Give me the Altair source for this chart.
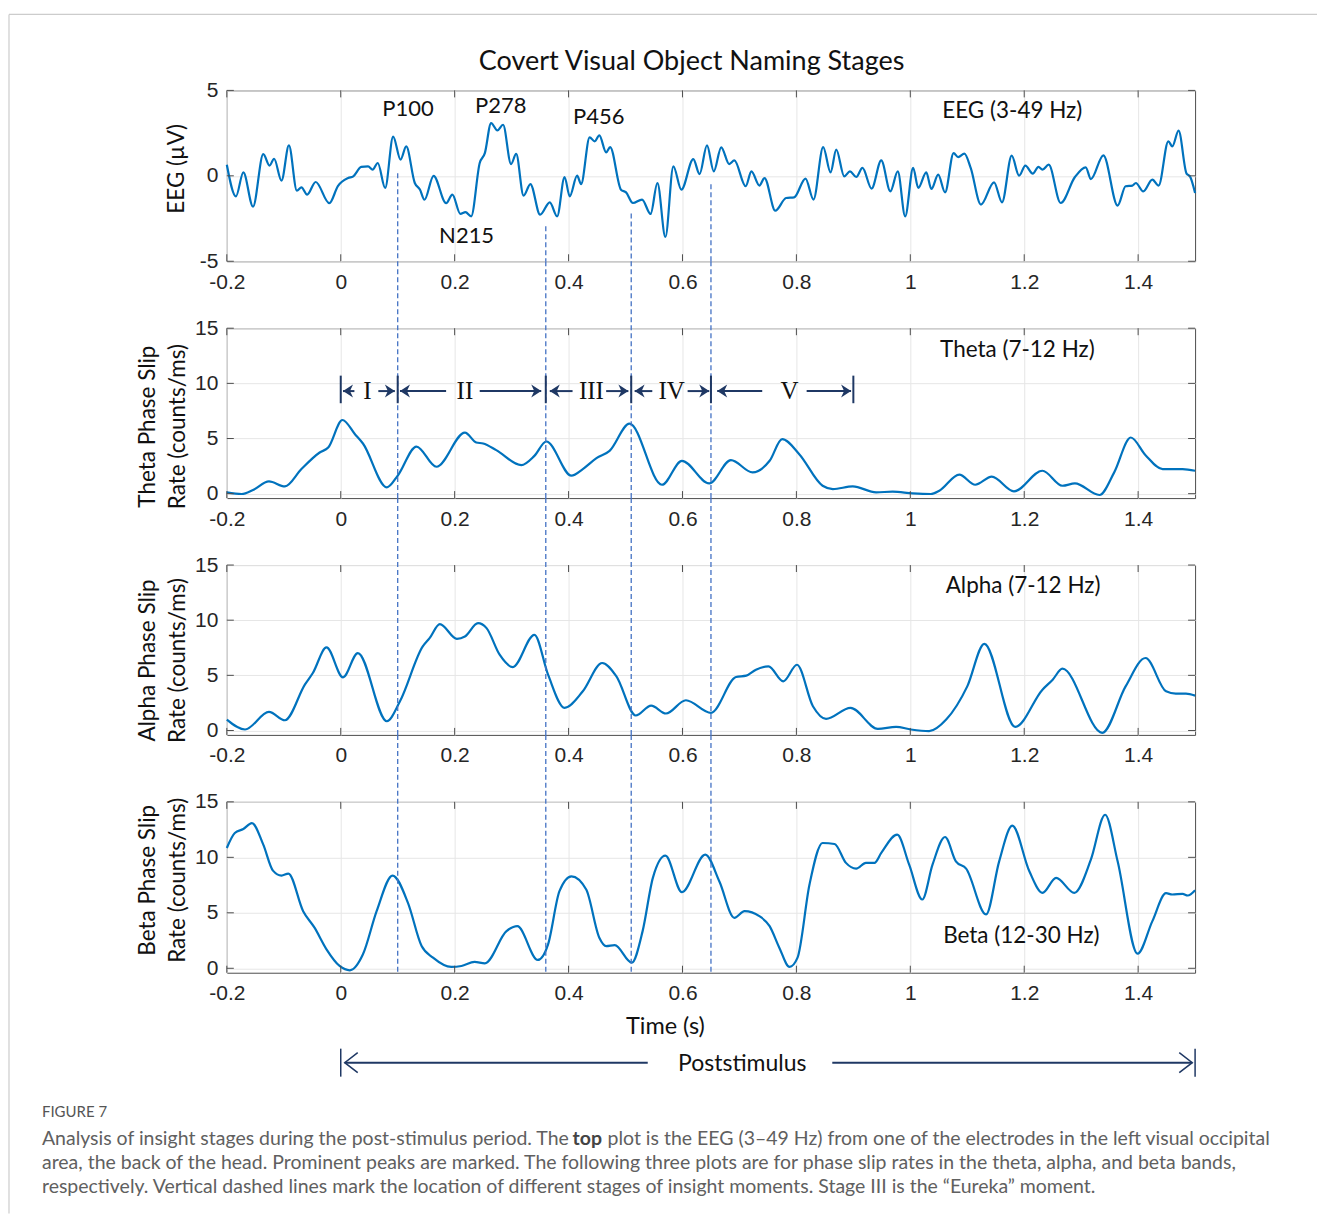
import altair as alt
import pandas as pd

# ---------------- data ----------------
eeg_t = [-0.2, -0.184, -0.171, -0.154, -0.136, -0.125, -0.117, -0.104, -0.091, -0.077, -0.069, -0.059,
         -0.044, -0.02, -0.005, 0.013, 0.022, 0.036, 0.048, 0.056, 0.065, 0.078, 0.092, 0.105, 0.115,
         0.13, 0.139, 0.147, 0.163, 0.185, 0.196, 0.21, 0.219, 0.229, 0.244, 0.253, 0.264, 0.275, 0.285,
         0.299, 0.308, 0.321, 0.333, 0.35, 0.367, 0.38, 0.393, 0.402, 0.415, 0.422, 0.437, 0.446, 0.454,
         0.466, 0.473, 0.492, 0.501, 0.513, 0.529, 0.544, 0.556, 0.57, 0.584, 0.598, 0.619, 0.63, 0.643,
         0.655, 0.668, 0.682, 0.691, 0.711, 0.721, 0.735, 0.744, 0.763, 0.782, 0.796, 0.816, 0.83, 0.847,
         0.86, 0.87, 0.884, 0.894, 0.905, 0.916, 0.932, 0.949, 0.965, 0.978, 0.991, 1.005, 1.014, 1.028,
         1.037, 1.049, 1.061, 1.076, 1.084, 1.095, 1.106, 1.124, 1.147, 1.161, 1.178, 1.191, 1.202, 1.215,
         1.225, 1.232, 1.243, 1.264, 1.289, 1.308, 1.317, 1.339, 1.364, 1.378, 1.39, 1.396, 1.409, 1.425,
         1.436, 1.453, 1.46, 1.471, 1.485, 1.491, 1.5]
eeg_v = [0.65, -1.2, 0.2, -1.8, 1.27, 0.6, 1.0, -0.28, 1.78, -0.87, -0.67, -1.1,
         -0.36, -1.6, -0.6, -0.13, -0.03, 0.52, 0.55, 0.36, 0.75, -0.71, 2.3, 0.95, 1.72,
         -0.42, -0.8, -1.4, 0.0, -1.6, -1.1, -2.23, -2.13, -2.37, 0.75, 1.33, 3.09, 2.66, 2.99,
         0.69, 1.28, -1.16, -0.48, -2.27, -1.55, -2.37, -0.07, -1.2, 0.01, -0.48, 2.25, 2.02, 2.37,
         1.37, 1.68, -0.81, -0.97, -1.59, -1.39, -2.23, -0.42, -3.58, 0.55, -0.81, 0.98, 0.1, 1.78,
         0.26, 1.67, 0.69, 0.9, -0.61, 0.26, -0.57, -0.13, -2.04, -1.3, -1.26, -0.16, -1.39, 1.68,
         0.2, 1.53, -0.03, 0.26, -0.07, 0.46, -0.75, 0.9, -0.91, 0.26, -2.37, 0.46, -0.71, 0.2,
         -0.77, 0.07, -0.97, 1.33, 1.1, 1.3, 0.46, -1.68, -0.38, -1.55, 1.18, 0.01, 0.6, 0.13,
         0.52, 0.36, 0.65, -1.59, -0.07, 0.5, -0.19, 1.2, -1.74, -0.61, -0.57, -0.42, -0.91, -0.22,
         -0.57, 2.02, 1.72, 2.64, 0.13, -0.03, -1.0]

theta_t = [-0.2, -0.174, -0.154, -0.126, -0.098, -0.069, -0.037, -0.022, 0.003, 0.025, 0.039, 0.081,
           0.1, 0.133, 0.168, 0.218, 0.238, 0.25, 0.273, 0.317, 0.34, 0.361, 0.405, 0.425, 0.449,
           0.472, 0.507, 0.564, 0.599, 0.647, 0.685, 0.723, 0.753, 0.775, 0.805, 0.846, 0.864, 0.899,
           0.94, 0.969, 1.004, 1.036, 1.051, 1.086, 1.114, 1.143, 1.182, 1.232, 1.267, 1.289, 1.332,
           1.358, 1.387, 1.413, 1.443, 1.46, 1.478, 1.5]
theta_v = [0.12, -0.03, 0.33, 1.11, 0.66, 2.23, 3.73, 4.18, 6.68, 5.39, 4.55, 0.57,
           1.63, 4.27, 2.44, 5.54, 4.64, 4.55, 3.95, 2.59, 3.43, 4.73, 1.63, 2.23, 3.22,
           3.88, 6.35, 0.81, 2.98, 0.93, 3.04, 1.93, 2.98, 4.94, 3.58, 0.72, 0.42, 0.66,
           0.12, 0.18, 0.03, -0.03, 0.27, 1.72, 0.81, 1.54, 0.21, 2.08, 0.72, 0.93, -0.12,
           1.93, 5.09, 3.49, 2.23, 2.23, 2.23, 2.08]

alpha_t = [-0.2, -0.168, -0.126, -0.098, -0.063, -0.049, -0.025, 0.004, 0.03, 0.081, 0.104, 0.144,
           0.156, 0.174, 0.204, 0.218, 0.241, 0.256, 0.279, 0.302, 0.34, 0.364, 0.393, 0.425, 0.459,
           0.484, 0.518, 0.545, 0.571, 0.606, 0.65, 0.694, 0.712, 0.729, 0.751, 0.777, 0.801, 0.829,
           0.852, 0.895, 0.943, 0.975, 1.001, 1.033, 1.063, 1.1, 1.13, 1.184, 1.232, 1.25, 1.267,
           1.337, 1.378, 1.413, 1.449, 1.466, 1.484, 1.5]
alpha_v = [0.99, 0.09, 1.69, 0.93, 4.16, 5.21, 7.53, 4.82, 7.02, 0.84, 2.65, 7.62,
           8.37, 9.64, 8.31, 8.52, 9.73, 9.28, 6.87, 5.75, 8.67, 5.06, 2.05, 3.55, 6.12,
           4.9, 1.36, 2.26, 1.54, 2.74, 1.6, 4.85, 4.97, 5.51, 5.81, 4.45, 5.96, 2.2,
           1.06, 2.05, 0.15, 0.33, 0.09, -0.06, 0.99, 4.0, 7.86, 0.33, 3.7, 4.61, 5.6,
           -0.21, 4.0, 6.57, 3.55, 3.34, 3.34, 3.16]

beta_t = [-0.2, -0.186, -0.171, -0.156, -0.136, -0.119, -0.104, -0.092, -0.066, -0.046, -0.025, -0.002,
          0.016, 0.039, 0.063, 0.091, 0.118, 0.142, 0.162, 0.194, 0.212, 0.235, 0.253, 0.291, 0.31,
          0.346, 0.364, 0.384, 0.405, 0.431, 0.454, 0.466, 0.481, 0.511, 0.53, 0.548, 0.57, 0.599,
          0.64, 0.665, 0.691, 0.709, 0.735, 0.753, 0.77, 0.788, 0.802, 0.823, 0.846, 0.867, 0.887,
          0.905, 0.922, 0.937, 0.949, 0.977, 0.998, 1.021, 1.039, 1.061, 1.08, 1.098, 1.133, 1.156,
          1.179, 1.209, 1.232, 1.256, 1.288, 1.317, 1.342, 1.364, 1.399, 1.425, 1.449, 1.46, 1.478,
          1.487, 1.5]
beta_v = [10.84, 12.19, 12.55, 13.09, 11.14, 8.8, 8.36, 8.54, 5.15, 3.66, 1.71, 0.21,
          -0.18, 1.26, 5.15, 8.36, 5.9, 2.0, 0.96, 0.12, 0.21, 0.57, 0.45, 3.35, 3.8,
          0.75, 2.16, 6.95, 8.29, 7.1, 2.76, 2.0, 2.09, 0.51, 3.35, 8.15, 10.15, 6.86,
          10.24, 7.8, 4.55, 5.15, 4.7, 3.8, 1.86, 0.12, 0.96, 7.55, 11.29, 11.2, 9.5,
          8.98, 9.5, 9.5, 10.4, 12.04, 9.34, 6.2, 9.34, 11.83, 9.64, 8.98, 4.85, 9.64,
          12.85, 8.74, 6.8, 8.15, 6.8, 9.79, 13.84, 9.64, 1.32, 4.25, 6.77, 6.65, 6.71,
          6.56, 7.04]

x_ticks = [-0.2, 0, 0.2, 0.4, 0.6, 0.8, 1.0, 1.2, 1.4]
eeg_ticks = [-5, 0, 5]
rate_ticks = [0, 5, 10, 15]

# stage boundaries (s) and the EEG level where each dashed marker begins
stage_lines = [0.1, 0.36, 0.51, 0.65]
stage_line_top = [0.15, -2.95, -2.2, -0.5]

# EEG peak annotations
peak_names = ["P100", "P278", "P456", "N215"]
peak_t = [0.118, 0.281, 0.453, 0.221]
peak_v = [3.9, 4.1, 3.45, -3.5]

# stage ruler in the theta panel
stage_edges = [0, 0.1, 0.36, 0.51, 0.65, 0.9]
stage_names = ["I", "II", "III", "IV", "V"]
stage_name_t = [0.047, 0.218, 0.44, 0.581, 0.788]
left_arrow_tip = [0.004, 0.104, 0.367, 0.516, 0.661]
left_arrow_end = [0.024, 0.185, 0.407, 0.547, 0.74]
right_arrow_start = [0.066, 0.244, 0.466, 0.609, 0.818]
right_arrow_tip = [0.095, 0.352, 0.505, 0.647, 0.896]
ruler_level = 9.3

# ---------------- styling ----------------
W = 969
H_EEG, H_RATE, H_BETA = 171, 170, 171
GAP = 67
LINE = "#0072BD"
DASH = "#4472C4"
NAVY = "#1F3864"
FRAME = "#4D4D4D"
GRID = "#E6E6E6"
SANS = "Lato"
NUM = "Liberation Sans"

x_scale = alt.Scale(domain=[-0.2, 1.5], nice=False, zero=False)
num_expr = "datum.value < 0 ? '-' + format(-datum.value, '~g') : format(datum.value, '~g')"

x_axis = alt.Axis(values=x_ticks, title=None, labelExpr=num_expr, grid=True, gridColor=GRID,
                  ticks=False, domain=False, labelFont=NUM, labelFontSize=21,
                  labelColor="#262626", labelPadding=10, labelFlush=False)


def y_axis(title, ticks, tx, ty):
    return alt.Axis(values=ticks, title=title, labelExpr=num_expr, grid=True, gridColor=GRID,
                    ticks=False, domain=False, labelFont=NUM, labelFontSize=21,
                    labelColor="#262626", labelPadding=9, titleFont=SANS, titleFontSize=22.5,
                    titleFontWeight="normal", titleColor="#111111", titleAngle=270,
                    titleAlign="center", titleBaseline="middle", titleX=tx, titleY=ty,
                    titleLineHeight=30)


def panel(t, v, domain, height, ticks, title, tx, ty):
    ys = alt.Scale(domain=domain, nice=False, zero=False)
    X = alt.X("t:Q", scale=x_scale, axis=x_axis)
    Y = alt.Y("v:Q", scale=ys, axis=y_axis(title, ticks, tx, ty))
    curve = alt.Chart(pd.DataFrame({"t": t, "v": v})).mark_line(
        color=LINE, strokeWidth=2.2, interpolate="monotone").encode(x=X, y=Y)
    xt = pd.DataFrame({"t": x_ticks})
    yt = pd.DataFrame({"v": ticks})
    tick_style = dict(color=FRAME, strokeWidth=1)
    tk = [
        alt.Chart(xt).mark_rule(**tick_style).encode(x=X, y=alt.value(height), y2=alt.value(height - 7)),
        alt.Chart(xt).mark_rule(**tick_style).encode(x=X, y=alt.value(0), y2=alt.value(7)),
        alt.Chart(yt).mark_rule(**tick_style).encode(y=Y, x=alt.value(0), x2=alt.value(7)),
        alt.Chart(yt).mark_rule(**tick_style).encode(y=Y, x=alt.value(W - 7), x2=alt.value(W)),
    ]
    return X, Y, curve, tk


def label(text, t, v, Y, X, size=22.5, font=SANS, color="#111111"):
    return alt.Chart(pd.DataFrame({"t": [t], "v": [v], "s": [text]})).mark_text(
        font=font, fontSize=size, color=color, baseline="middle", align="center").encode(
        x=X, y=Y, text="s:N")


def dashed_through(X, height):
    return alt.Chart(pd.DataFrame({"t": stage_lines})).mark_rule(
        color=DASH, strokeWidth=1.3, strokeDash=[5, 3]).encode(
        x=X, y=alt.value(-GAP), y2=alt.value(height))


# ---- panel 1: EEG ----
X1, Y1, c1, tk1 = panel(eeg_t, eeg_v, [-5, 5], H_EEG, eeg_ticks, "EEG (µV)", -50, 78)
dash1 = alt.Chart(pd.DataFrame({"t": stage_lines, "v": stage_line_top})).mark_rule(
    color=DASH, strokeWidth=1.3, strokeDash=[5, 3]).encode(x=X1, y=Y1, y2=alt.value(H_EEG))
peaks = alt.Chart(pd.DataFrame({"t": peak_t, "v": peak_v, "s": peak_names})).mark_text(
    font=SANS, fontSize=22, color="#111111", baseline="middle").encode(x=X1, y=Y1, text="s:N")
eeg_band = label("EEG (3-49 Hz)", 1.179, 3.8, Y1, X1)
main_title = alt.Chart(pd.DataFrame({"t": [0.616], "s": ["Covert Visual Object Naming Stages"]})).mark_text(
    font=SANS, fontSize=27, color="#111111", baseline="middle").encode(
    x=X1, y=alt.value(-28), text="s:N")
card = pd.DataFrame({"a": [0]})
card_top = alt.Chart(card).mark_rule(color="#CCCCCC", strokeWidth=1.2).encode(
    x=alt.value(-218), x2=alt.value(1091), y=alt.value(-76))
card_left = alt.Chart(card).mark_rule(color="#CCCCCC", strokeWidth=1.2).encode(
    x=alt.value(-218), y=alt.value(-76), y2=alt.value(1124))
p1 = alt.layer(card_top, card_left, c1, *tk1, dash1, peaks, eeg_band, main_title).properties(
    width=W, height=H_EEG)

# ---- panel 2: theta ----
X2, Y2, c2, tk2 = panel(theta_t, theta_v, [-0.4, 15], H_RATE, rate_ticks,
                        ["Theta Phase Slip", "Rate (counts/ms)"], -79, 98)
bars = alt.Chart(pd.DataFrame({"t": stage_edges, "v": [8.2] * 6, "v2": [10.7] * 6})).mark_rule(
    color=NAVY, strokeWidth=2).encode(x=X2, y=Y2, y2="v2:Q")
shafts = alt.Chart(pd.DataFrame({
    "t": left_arrow_tip + right_arrow_start,
    "t2": left_arrow_end + right_arrow_tip,
    "v": [ruler_level] * 10})).mark_rule(color=NAVY, strokeWidth=2).encode(x=X2, x2="t2:Q", y=Y2)
head_r = alt.Chart(pd.DataFrame({"t": right_arrow_tip, "v": [ruler_level] * 5})).mark_point(
    shape="M0,0L-1,-0.65L-0.7,0L-1,0.65Z", size=400, filled=True, color=NAVY, opacity=1).encode(x=X2, y=Y2)
head_l = alt.Chart(pd.DataFrame({"t": left_arrow_tip, "v": [ruler_level] * 5})).mark_point(
    shape="M0,0L1,-0.65L0.7,0L1,0.65Z", size=400, filled=True, color=NAVY, opacity=1).encode(x=X2, y=Y2)
roman = alt.Chart(pd.DataFrame({"t": stage_name_t, "v": [ruler_level] * 5, "s": stage_names})).mark_text(
    font="Liberation Serif", fontSize=25, color="#111111", baseline="middle").encode(x=X2, y=Y2, text="s:N")
theta_band = label("Theta (7-12 Hz)", 1.188, 13.0, Y2, X2)
p2 = alt.layer(c2, *tk2, dashed_through(X2, H_RATE), bars, shafts, head_r, head_l, roman,
               theta_band).properties(width=W, height=H_RATE)

# ---- panel 3: alpha ----
X3, Y3, c3, tk3 = panel(alpha_t, alpha_v, [-0.4, 15], H_RATE, rate_ticks,
                        ["Alpha Phase Slip", "Rate (counts/ms)"], -79, 95)
alpha_band = label("Alpha (7-12 Hz)", 1.198, 13.1, Y3, X3)
p3 = alt.layer(c3, *tk3, dashed_through(X3, H_RATE), alpha_band).properties(width=W, height=H_RATE)

# ---- panel 4: beta, time axis, poststimulus ruler and caption ----
X4, Y4, c4, tk4 = panel(beta_t, beta_v, [-0.4, 15], H_BETA, rate_ticks,
                        ["Beta Phase Slip", "Rate (counts/ms)"], -79, 78)
beta_band = label("Beta (12-30 Hz)", 1.195, 2.9, Y4, X4)
time_title = alt.Chart(pd.DataFrame({"t": [0.57], "s": ["Time (s)"]})).mark_text(
    font=SANS, fontSize=23.5, color="#111111", baseline="middle").encode(x=X4, y=alt.value(225), text="s:N")
post_bars = alt.Chart(pd.DataFrame({"t": [0, 1.5]})).mark_rule(color=NAVY, strokeWidth=1.5).encode(
    x=X4, y=alt.value(247), y2=alt.value(275))
post_shafts = alt.Chart(pd.DataFrame({"t": [0.007, 0.863], "t2": [0.539, 1.495]})).mark_rule(
    color=NAVY, strokeWidth=2).encode(x=X4, x2="t2:Q", y=alt.value(261))
post_head_l = alt.Chart(pd.DataFrame({"t": [0.007]})).mark_point(
    shape="M1,-0.77L0,0L1,0.77", size=676, filled=False, color=NAVY, strokeWidth=1.5, opacity=1).encode(
    x=X4, y=alt.value(261))
post_head_r = alt.Chart(pd.DataFrame({"t": [1.495]})).mark_point(
    shape="M-1,-0.77L0,0L-1,0.77", size=676, filled=False, color=NAVY, strokeWidth=1.5, opacity=1).encode(
    x=X4, y=alt.value(261))
post_text = alt.Chart(pd.DataFrame({"t": [0.705], "s": ["Poststimulus"]})).mark_text(
    font=SANS, fontSize=23, color="#111111", baseline="middle").encode(x=X4, y=alt.value(262), text="s:N")

CAP = "#606060"
CAP_SIZE = 19.5
cap_rows = [
    ("FIGURE 7", -185, 310, 15, "normal", "#555555"),
    ("Analysis of insight stages during the post-stimulus period. The", -185, 337, CAP_SIZE, "normal", CAP),
    ("top", 346, 337, CAP_SIZE, "bold", "#444444"),
    ("plot is the EEG (3\u201349 Hz) from one of the electrodes in the left visual occipital", 381, 337,
     CAP_SIZE, "normal", CAP),
    ("area, the back of the head. Prominent peaks are marked. The following three plots are for phase slip "
     "rates in the theta, alpha, and beta bands,", -185, 361, CAP_SIZE, "normal", CAP),
    ("respectively. Vertical dashed lines mark the location of different stages of insight moments. "
     "Stage III is the \u201cEureka\u201d moment.", -185, 385, CAP_SIZE, "normal", CAP),
]
caption = [
    alt.Chart(pd.DataFrame({"s": [s]})).mark_text(
        font=SANS, fontSize=fs, fontWeight=fw, color=col, align="left", baseline="middle").encode(
        x=alt.value(x), y=alt.value(y), text="s:N")
    for s, x, y, fs, fw, col in cap_rows
]

p4 = alt.layer(c4, *tk4, dashed_through(X4, H_BETA), beta_band, time_title, post_bars, post_shafts,
               post_head_l, post_head_r, post_text, *caption).properties(width=W, height=H_BETA)

chart = alt.vconcat(p1, p2, p3, p4, spacing=GAP, bounds="flush").properties(
    padding={"left": 7, "top": 12, "right": 0, "bottom": 0},
    autosize=alt.AutoSizeParams(type="pad"),
    background="white",
).configure_view(stroke=FRAME, strokeWidth=1)

chart.save("out.html", embed_options={"renderer": "svg", "actions": False})
